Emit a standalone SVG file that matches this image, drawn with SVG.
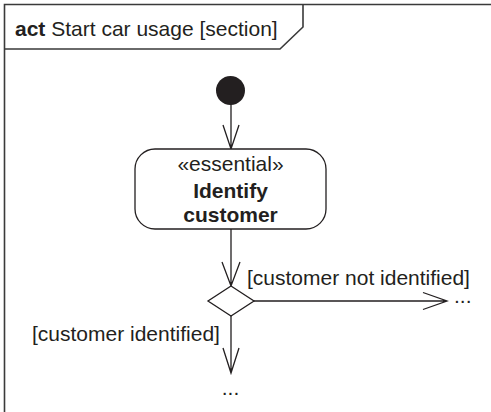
<svg xmlns="http://www.w3.org/2000/svg" width="491" height="412" viewBox="0 0 491 412">
<style>
text{font-family:"Liberation Sans",Arial,sans-serif;font-size:21px;fill:#231f20}
.b{font-weight:bold}
.frame{fill:none;stroke:#3a3a3a;stroke-width:1.6}
.ln{fill:none;stroke:#231f20;stroke-width:1.3}
.shape{fill:#fff;stroke:#231f20;stroke-width:1.3}
</style>
<rect width="491" height="412" fill="#fff"/>
<g id="frame">
<path class="frame" d="M4.5,412 V4.5 H491"/>
<path class="frame" d="M4.5,49 H280 L303,27 V4.5"/>
<text x="15" y="36"><tspan class="b">act</tspan> Start car usage [section]</text>
</g>
<g id="connectors">
<path class="ln" d="M231,104 V149 M223,125 L231,149 L239,125"/>
<path class="ln" d="M231,229 V286 M222,262 L231,286 L240,262"/>
<path class="ln" d="M253,301 H447 M423,292.5 L447,301 L423,309.5"/>
<path class="ln" d="M231,316 V373 M223,348 L231,373 L239,348"/>
<text x="247" y="285">[customer not identified]</text>
<text x="32" y="340.5">[customer identified]</text>
</g>
<g id="initial">
<circle cx="230.5" cy="90.5" r="14.5" fill="#231f20"/>
</g>
<g id="identify-customer">
<rect class="shape" x="135" y="149" width="191" height="80" rx="20" ry="20"/>
<text x="230.5" y="170.5" text-anchor="middle">«essential»</text>
<text class="b" x="230.5" y="198" text-anchor="middle">Identify</text>
<text class="b" x="230.5" y="221.5" text-anchor="middle">customer</text>
</g>
<g id="decision">
<path class="shape" d="M231,286 L254,301 L231,316 L208,301 Z"/>
</g>
<g id="continue-right">
<text x="454" y="302.5">...</text>
</g>
<g id="continue-down">
<text x="230.5" y="394.5" text-anchor="middle">...</text>
</g>
</svg>
